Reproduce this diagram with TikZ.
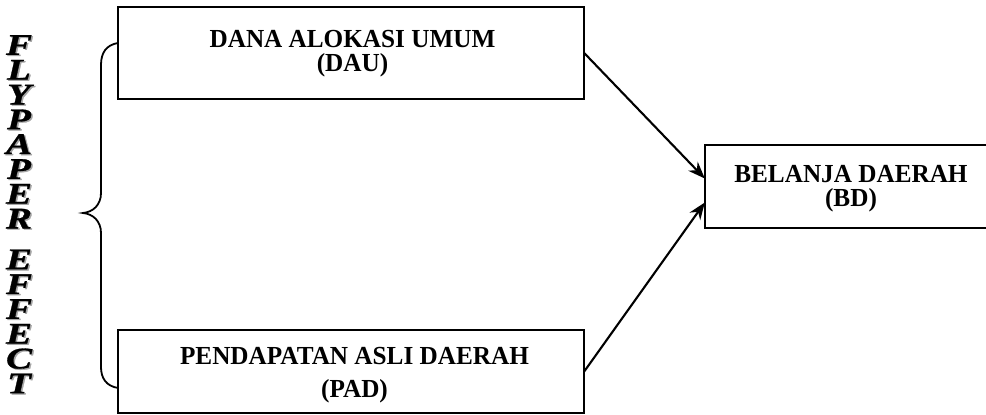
\documentclass[tikz,border=0pt]{standalone}
\usepackage{fontspec}
\setmainfont{Liberation Serif}
\newfontfamily\boxfont[FakeStretch=0.97]{Liberation Serif}
\newfontfamily\titlefont[FakeStretch=1.3,FakeBold=1]{Liberation Serif}
\usetikzlibrary{arrows.meta}
\tikzset{
  frame/.style={line width=2.3pt},
  anchorbox/.style={inner sep=0pt, draw=none},
  boxtext/.style={align=center, inner sep=0pt,
    font=\boxfont\fontsize{26}{24}\selectfont\bfseries},
  conn/.style={line width=2.1pt, -{Stealth[length=17pt,width=13pt]}},
  ltr/.style={font=\titlefont\fontsize{30}{30}\selectfont\bfseries\itshape,
    inner sep=0pt, text height=20pt, text depth=0pt, anchor=south},
  ltrsh/.style={ltr, text=black!35},
}
\begin{document}
\begin{tikzpicture}[x=1pt,y=1pt]
\useasboundingbox (0,0) rectangle (986,415);
% boxes
\node[anchorbox, minimum width=466pt, minimum height=92pt] (dau) at (351,362) {};
\draw[frame] (dau.south west) rectangle (dau.north east);
\node[boxtext] (daut) at (352.5,361.3) {DANA ALOKASI UMUM\\(DAU)};
\node[anchorbox, minimum width=466pt, minimum height=83pt] (pad) at (351,43.5) {};
\draw[frame] (pad.south west) rectangle (pad.north east);
\node[boxtext, font=\boxfont\fontsize{26}{33}\selectfont\bfseries] (padt) at (354.5,39.8) {PENDAPATAN ASLI DAERAH\\(PAD)};
\node[anchorbox, minimum width=292pt, minimum height=83pt] (bd) at (851,228.5) {};
\draw[frame] (bd.south west) rectangle (bd.north east);
\node[boxtext] (bdt) at (851,226.8) {BELANJA DAERAH\\(BD)};
% arrows
\draw[conn] (dau.east) -- ([yshift=8pt]bd.west);
\draw[conn] (pad.east) -- ([yshift=-16pt]bd.west);
% brace
\coordinate (bt) at (118,372);
\coordinate (bb) at (118,27);
\coordinate (tip) at (83,202);
\draw[line width=1.8pt] (bt) .. controls (106,370) and (101,362) .. (101,350)
  -- (101,222) .. controls (101,210) and (93,203) .. (tip)
  .. controls (93,201) and (101,194) .. (101,182)
  -- (101,48) .. controls (101,37) and (106,29) .. (bb);
% vertical title (letters with a light shadow)
\foreach \ch/\yy [count=\i] in {F/360,L/335.2,Y/310.4,P/285.6,A/260.8,P/236,E/211.2,R/186.4,E/145.6,F/120.8,F/96,E/71.2,C/46.4,T/21.6}{
  \node[ltrsh] (s\i) at (20.5,\yy-1.2) {\ch};
  \node[ltr] (l\i) at (19,\yy) {\ch};
}
\end{tikzpicture}
\end{document}
